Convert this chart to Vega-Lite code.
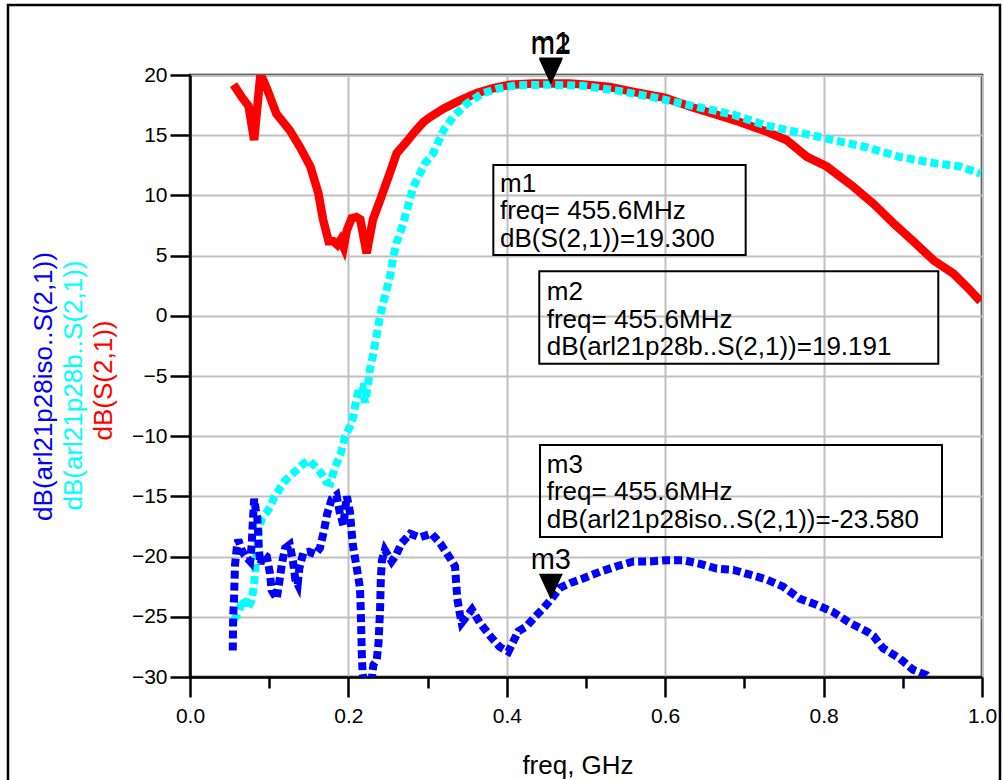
{
  "$schema": "https://vega.github.io/schema/vega-lite/v6.json",
  "width": 792,
  "height": 602,
  "autosize": "none",
  "padding": {"left": 190, "top": 75, "right": 21, "bottom": 103},
  "background": "white",
  "config": {
    "view": {"stroke": "black", "strokeWidth": 2.5},
    "font": "Liberation Sans",
    "axis": {"labelFont": "Liberation Sans", "titleFont": "Liberation Sans"}
  },
  "datasets": {
    "red": [
      {"f":0.055,"db":19.2},{"f":0.065,"db":18.2},{"f":0.074,"db":17.4},{"f":0.081,"db":14.6},{"f":0.089,"db":20.1},
      {"f":0.097,"db":18.9},{"f":0.109,"db":16.8},{"f":0.126,"db":15.4},{"f":0.139,"db":14.0},{"f":0.152,"db":12.4},
      {"f":0.162,"db":10.2},{"f":0.168,"db":8.0},{"f":0.175,"db":6.2},{"f":0.181,"db":6.2},{"f":0.186,"db":5.9},
      {"f":0.19,"db":6.3},{"f":0.194,"db":5.7},{"f":0.198,"db":7.1},{"f":0.204,"db":8.1},{"f":0.21,"db":8.2},
      {"f":0.215,"db":8.0},{"f":0.223,"db":5.2},{"f":0.231,"db":8.0},{"f":0.24,"db":9.6},{"f":0.252,"db":11.8},
      {"f":0.261,"db":13.5},{"f":0.274,"db":14.5},{"f":0.284,"db":15.3},{"f":0.295,"db":16.1},{"f":0.303,"db":16.5},
      {"f":0.32,"db":17.2},{"f":0.341,"db":17.9},{"f":0.362,"db":18.5},{"f":0.383,"db":18.9},{"f":0.404,"db":19.2},
      {"f":0.433,"db":19.3},{"f":0.456,"db":19.3},{"f":0.48,"db":19.3},{"f":0.5,"db":19.2},{"f":0.53,"db":19.0},
      {"f":0.56,"db":18.6},{"f":0.6,"db":18.1},{"f":0.635,"db":17.3},{"f":0.665,"db":16.7},{"f":0.694,"db":16.1},
      {"f":0.728,"db":15.3},{"f":0.753,"db":14.6},{"f":0.779,"db":13.2},{"f":0.804,"db":12.4},{"f":0.838,"db":10.7},
      {"f":0.863,"db":9.3},{"f":0.888,"db":7.7},{"f":0.913,"db":6.2},{"f":0.939,"db":4.6},{"f":0.964,"db":3.5},
      {"f":0.981,"db":2.4},{"f":0.998,"db":1.2}
    ],
    "cyan": [
      {"f":0.055,"db":-25.3},{"f":0.061,"db":-24.7},{"f":0.067,"db":-23.5},{"f":0.073,"db":-24.3},{"f":0.078,"db":-23.6},
      {"f":0.081,"db":-22.2},{"f":0.083,"db":-20.6},{"f":0.085,"db":-19.2},{"f":0.087,"db":-17.7},{"f":0.091,"db":-16.8},
      {"f":0.096,"db":-16.4},{"f":0.101,"db":-15.9},{"f":0.106,"db":-15.1},{"f":0.112,"db":-14.5},{"f":0.12,"db":-13.7},
      {"f":0.128,"db":-13.2},{"f":0.135,"db":-12.8},{"f":0.143,"db":-12.3},{"f":0.15,"db":-12.0},{"f":0.158,"db":-12.5},
      {"f":0.166,"db":-13.1},{"f":0.172,"db":-13.8},{"f":0.177,"db":-13.9},{"f":0.183,"db":-12.6},{"f":0.19,"db":-11.5},
      {"f":0.196,"db":-10.0},{"f":0.202,"db":-9.2},{"f":0.206,"db":-8.4},{"f":0.21,"db":-7.0},{"f":0.2135,"db":-5.9},
      {"f":0.2175,"db":-5.9},{"f":0.221,"db":-7.2},{"f":0.2245,"db":-5.9},{"f":0.227,"db":-4.5},{"f":0.2315,"db":-3.1},
      {"f":0.2357,"db":-1.6},{"f":0.24,"db":0.0},{"f":0.246,"db":1.6},{"f":0.2525,"db":3.25},{"f":0.257,"db":5.0},
      {"f":0.261,"db":6.1},{"f":0.266,"db":7.0},{"f":0.274,"db":8.8},{"f":0.282,"db":10.7},{"f":0.297,"db":12.7},
      {"f":0.307,"db":13.5},{"f":0.32,"db":15.4},{"f":0.332,"db":16.5},{"f":0.349,"db":17.6},{"f":0.37,"db":18.5},
      {"f":0.391,"db":18.9},{"f":0.413,"db":19.15},{"f":0.456,"db":19.19},{"f":0.496,"db":19.1},{"f":0.539,"db":18.7},
      {"f":0.581,"db":18.2},{"f":0.623,"db":17.6},{"f":0.644,"db":17.3},{"f":0.686,"db":16.7},{"f":0.728,"db":15.8},
      {"f":0.77,"db":15.2},{"f":0.812,"db":14.6},{"f":0.854,"db":14.0},{"f":0.896,"db":13.2},{"f":0.938,"db":12.7},
      {"f":0.972,"db":12.4},{"f":0.998,"db":11.8}
    ],
    "blue": [
      {"f":0.054,"db":-27.8},{"f":0.0545,"db":-25.0},{"f":0.0556,"db":-23.5},{"f":0.0568,"db":-20.7},{"f":0.059,"db":-19.3},
      {"f":0.061,"db":-18.6},{"f":0.065,"db":-19.4},{"f":0.069,"db":-19.9},{"f":0.076,"db":-20.4},{"f":0.078,"db":-18.9},
      {"f":0.079,"db":-17.5},{"f":0.081,"db":-15.2},{"f":0.083,"db":-16.1},{"f":0.085,"db":-16.8},{"f":0.086,"db":-17.9},
      {"f":0.087,"db":-19.4},{"f":0.089,"db":-20.6},{"f":0.093,"db":-19.8},{"f":0.097,"db":-20.0},{"f":0.101,"db":-21.4},
      {"f":0.103,"db":-22.8},{"f":0.1095,"db":-23.5},{"f":0.113,"db":-22.0},{"f":0.116,"db":-20.6},{"f":0.12,"db":-19.3},
      {"f":0.126,"db":-19.0},{"f":0.13,"db":-20.4},{"f":0.133,"db":-21.9},{"f":0.136,"db":-22.3},{"f":0.138,"db":-21.0},
      {"f":0.143,"db":-19.7},{"f":0.15,"db":-19.6},{"f":0.158,"db":-19.8},{"f":0.164,"db":-19.3},{"f":0.169,"db":-17.9},
      {"f":0.173,"db":-16.5},{"f":0.179,"db":-15.2},{"f":0.185,"db":-14.9},{"f":0.189,"db":-16.3},{"f":0.1936,"db":-17.4},
      {"f":0.196,"db":-16.0},{"f":0.198,"db":-15.0},{"f":0.202,"db":-16.3},{"f":0.204,"db":-17.9},{"f":0.206,"db":-19.2},
      {"f":0.2115,"db":-21.3},{"f":0.2146,"db":-22.6},{"f":0.2155,"db":-24.2},{"f":0.216,"db":-25.5},{"f":0.2165,"db":-26.9},
      {"f":0.217,"db":-28.3},{"f":0.218,"db":-29.7},{"f":0.222,"db":-31.5},{"f":0.228,"db":-31.0},{"f":0.2315,"db":-29.0},
      {"f":0.2357,"db":-28.6},{"f":0.238,"db":-27.2},{"f":0.239,"db":-25.8},{"f":0.24,"db":-24.4},{"f":0.2405,"db":-23.0},
      {"f":0.241,"db":-21.7},{"f":0.2424,"db":-20.3},{"f":0.246,"db":-19.45},{"f":0.2546,"db":-20.4},{"f":0.26,"db":-19.9},
      {"f":0.267,"db":-18.9},{"f":0.278,"db":-18.1},{"f":0.29,"db":-18.4},{"f":0.305,"db":-18.1},{"f":0.316,"db":-18.9},
      {"f":0.328,"db":-20.1},{"f":0.3346,"db":-20.8},{"f":0.336,"db":-22.1},{"f":0.3375,"db":-23.5},{"f":0.341,"db":-24.85},
      {"f":0.343,"db":-25.5},{"f":0.356,"db":-24.4},{"f":0.366,"db":-25.5},{"f":0.379,"db":-26.6},{"f":0.391,"db":-27.5},
      {"f":0.402,"db":-27.9},{"f":0.406,"db":-27.35},{"f":0.4145,"db":-26.2},{"f":0.425,"db":-25.8},{"f":0.4356,"db":-25.0},
      {"f":0.446,"db":-24.3},{"f":0.4556,"db":-23.58},{"f":0.467,"db":-22.6},{"f":0.48,"db":-22.2},{"f":0.497,"db":-21.8},
      {"f":0.518,"db":-21.25},{"f":0.539,"db":-20.8},{"f":0.56,"db":-20.4},{"f":0.581,"db":-20.4},{"f":0.602,"db":-20.3},
      {"f":0.623,"db":-20.3},{"f":0.644,"db":-20.6},{"f":0.665,"db":-21.0},{"f":0.686,"db":-21.1},{"f":0.707,"db":-21.5},
      {"f":0.728,"db":-21.9},{"f":0.749,"db":-22.5},{"f":0.77,"db":-23.5},{"f":0.791,"db":-24.0},{"f":0.812,"db":-24.6},
      {"f":0.833,"db":-25.5},{"f":0.854,"db":-26.2},{"f":0.863,"db":-26.6},{"f":0.875,"db":-27.6},{"f":0.896,"db":-28.45},
      {"f":0.913,"db":-29.4},{"f":0.93,"db":-29.85},{"f":0.945,"db":-31.0}
    ],
    "frame": [{"x1": -0.2298, "x2": 1.0227, "y1": 25.81, "y2": -40}],
    "boxes": [
      {"x1": 0.383, "x2": 0.7016, "y1": 12.525, "y2": 5.05},
      {"x1": 0.441, "x2": 0.9448, "y1": 3.70, "y2": -3.98},
      {"x1": 0.4419, "x2": 0.9495, "y1": -10.73, "y2": -18.37}
    ],
    "boxtext": [
      {"x": 0.3914, "y": 10.28, "t": "m1\nfreq= 455.6MHz\ndB(S(2,1))=19.300"},
      {"x": 0.4504, "y": 1.29, "t": "m2\nfreq= 455.6MHz\ndB(arl21p28b..S(2,1))=19.191"},
      {"x": 0.4504, "y": -13.06, "t": "m3\nfreq= 455.6MHz\ndB(arl21p28iso..S(2,1))=-23.580"}
    ],
    "markers": [
      {"name": "m1", "f": 0.4556, "db": 19.3},
      {"name": "m2", "f": 0.4556, "db": 19.191},
      {"name": "m3", "f": 0.4556, "db": -23.58}
    ]
  },
  "layer": [
    {
      "data": {"name": "frame"},
      "mark": {"type": "rect", "filled": false, "stroke": "black", "strokeWidth": 2.5, "clip": false},
      "encoding": {
        "x": {"field": "x1", "type": "quantitative", "scale": {"domain": [0, 1], "nice": false, "zero": false}, "axis": null},
        "x2": {"field": "x2"},
        "y": {"field": "y1", "type": "quantitative", "scale": {"domain": [-30, 20], "nice": false, "zero": false}, "axis": null},
        "y2": {"field": "y2"}
      }
    },
    {
      "data": {"name": "red"},
      "mark": {"type": "line", "color": "#ff0000", "strokeWidth": 8.5, "clip": true},
      "encoding": {
        "x": {"field": "f", "type": "quantitative", "scale": {"domain": [0, 1], "nice": false, "zero": false},
          "axis": {"orient": "bottom", "values": [0, 0.2, 0.4, 0.6, 0.8, 1.0], "format": ".1f",
            "tickSize": 20, "tickWidth": 2.5, "tickColor": "black", "domainColor": "black", "domainWidth": 2.5,
            "labelFontSize": 21, "labelColor": "black", "labelPadding": 8, "labelFlush": false, "labelOverlap": false, "labelBound": false,
            "grid": true, "gridColor": "#c0c0c0", "gridWidth": 2,
            "title": "freq, GHz", "titleFontSize": 26, "titleFontWeight": "normal", "titleColor": "black",
            "titleX": 387.5, "titleY": 96, "titleBaseline": "alphabetic", "titleAlign": "center"}},
        "y": {"field": "db", "type": "quantitative", "scale": {"domain": [-30, 20], "nice": false, "zero": false},
          "axis": {"orient": "left", "values": [-30, -25, -20, -15, -10, -5, 0, 5, 10, 15, 20],
            "tickSize": 20, "tickWidth": 2.5, "tickColor": "black", "domainColor": "black", "domainWidth": 2.5,
            "labelFontSize": 21, "labelColor": "black", "labelPadding": 3, "labelOverlap": false, "labelBound": false,
            "grid": true, "gridColor": "#c0c0c0", "gridWidth": 2,
            "title": "dB(S(2,1))", "titleFontSize": 26, "titleFontWeight": "normal", "titleColor": "#ff0000",
            "titleX": -87, "titleY": 305, "titleBaseline": "middle", "titleAlign": "center", "titleAngle": -90}}
      }
    },
    {
      "data": {"name": "cyan"},
      "mark": {"type": "line", "color": "#00ffff", "strokeWidth": 8, "strokeDash": [8, 4], "strokeCap": "butt", "clip": true},
      "encoding": {
        "x": {"field": "f", "type": "quantitative", "scale": {"domain": [0, 1], "nice": false, "zero": false},
          "axis": {"orient": "bottom", "values": [0.1, 0.3, 0.5, 0.7, 0.9], "tickSize": 11, "tickWidth": 2.5, "tickColor": "black",
            "labels": false, "domain": false, "grid": false, "title": null}},
        "y": {"field": "db", "type": "quantitative", "scale": {"domain": [-30, 20], "nice": false, "zero": false},
          "axis": {"orient": "left", "labels": false, "ticks": false, "domain": false, "grid": false,
            "title": "dB(arl21p28b..S(2,1))", "titleFontSize": 26, "titleFontWeight": "normal", "titleColor": "#00ffff",
            "titleX": -117, "titleY": 310, "titleBaseline": "middle", "titleAlign": "center", "titleAngle": -90}}
      }
    },
    {
      "data": {"name": "blue"},
      "mark": {"type": "line", "color": "#0000ff", "strokeWidth": 8, "strokeDash": [8, 4], "strokeCap": "butt", "clip": true},
      "encoding": {
        "x": {"field": "f", "type": "quantitative", "scale": {"domain": [0, 1], "nice": false, "zero": false}, "axis": null},
        "y": {"field": "db", "type": "quantitative", "scale": {"domain": [-30, 20], "nice": false, "zero": false},
          "axis": {"orient": "left", "labels": false, "ticks": false, "domain": false, "grid": false,
            "title": "dB(arl21p28iso..S(2,1))", "titleFontSize": 26, "titleFontWeight": "normal", "titleColor": "#0000ff",
            "titleX": -146.5, "titleY": 311, "titleBaseline": "middle", "titleAlign": "center", "titleAngle": -90}}
      }
    },
    {
      "data": {"name": "boxes"},
      "mark": {"type": "rect", "filled": false, "stroke": "black", "strokeWidth": 2},
      "encoding": {
        "x": {"field": "x1", "type": "quantitative", "scale": {"domain": [0, 1], "nice": false, "zero": false}, "axis": null},
        "x2": {"field": "x2"},
        "y": {"field": "y1", "type": "quantitative", "scale": {"domain": [-30, 20], "nice": false, "zero": false}, "axis": null},
        "y2": {"field": "y2"}
      }
    },
    {
      "data": {"name": "boxtext"},
      "mark": {"type": "text", "align": "left", "baseline": "alphabetic", "fontSize": 26, "lineBreak": "\n", "lineHeight": 27.3, "color": "black", "font": "Liberation Sans"},
      "encoding": {
        "x": {"field": "x", "type": "quantitative", "scale": {"domain": [0, 1], "nice": false, "zero": false}, "axis": null},
        "y": {"field": "y", "type": "quantitative", "scale": {"domain": [-30, 20], "nice": false, "zero": false}, "axis": null},
        "text": {"field": "t"}
      }
    },
    {
      "data": {"name": "markers"},
      "mark": {"type": "point", "shape": "M-0.92,-1L0.92,-1L0,1Z", "size": 676, "filled": true, "color": "black", "opacity": 1, "strokeWidth": 0, "yOffset": -13},
      "encoding": {
        "x": {"field": "f", "type": "quantitative", "scale": {"domain": [0, 1], "nice": false, "zero": false}, "axis": null},
        "y": {"field": "db", "type": "quantitative", "scale": {"domain": [-30, 20], "nice": false, "zero": false}, "axis": null}
      }
    },
    {
      "data": {"name": "markers"},
      "mark": {"type": "text", "align": "center", "baseline": "alphabetic", "fontSize": 29, "color": "black", "dy": -31, "font": "Liberation Sans"},
      "encoding": {
        "x": {"field": "f", "type": "quantitative", "scale": {"domain": [0, 1], "nice": false, "zero": false}, "axis": null},
        "y": {"field": "db", "type": "quantitative", "scale": {"domain": [-30, 20], "nice": false, "zero": false}, "axis": null},
        "text": {"field": "name"}
      }
    }
  ],
  "resolve": {"axis": {"x": "independent", "y": "independent"}}
}
